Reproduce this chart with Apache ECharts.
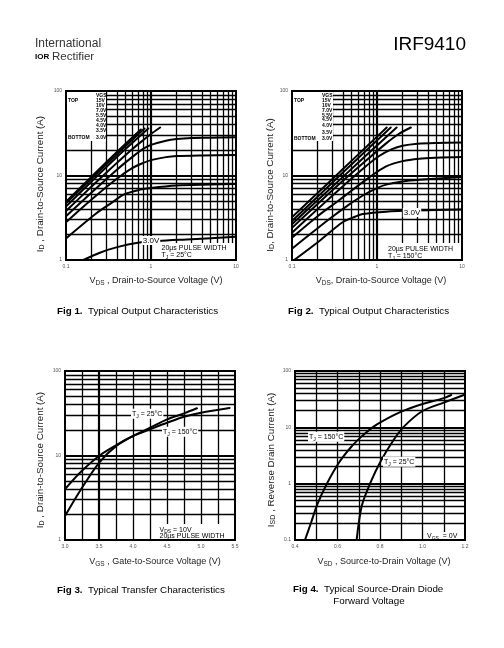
<!DOCTYPE html>
<html><head><meta charset="utf-8">
<script src="https://cdn.jsdelivr.net/npm/echarts@6/dist/echarts.min.js"></script>
<style>html,body{margin:0;padding:0;background:#fff}#c{width:504px;height:648px}</style>
</head><body><div id="c"></div>
<script>
// ---------- Fig 1: Typical Output Characteristics, TJ = 25°C (VDS V, ID A) ----------
const fig1_15V = [[0.1,4.9],[0.2,9.7],[0.4,19.1],[0.76,35]];
const fig1_10V = [[0.1,4.7],[0.2,9.2],[0.4,18],[0.84,36]];
const fig1_7V  = [[0.1,4.3],[0.2,8.5],[0.4,16.7],[0.93,36]];
const fig1_55V = [[0.1,3.8],[0.2,7.4],[0.4,14.2],[0.6,20.5],[0.8,26],[1.0,31],[1.28,37]];
const fig1_45V = [[0.1,3.3],[0.2,6.3],[0.4,11.8],[0.6,16.5],[0.8,20.5],[1.0,23],[1.5,25.8],[2,27],[3,27.8],[5,28],[10,28.3]];
const fig1_4V  = [[0.1,2.8],[0.2,5.2],[0.4,9.2],[0.6,12.2],[0.8,14],[1.0,15.2],[1.5,16.5],[2,17],[4,17.3],[10,17.5]];
const fig1_35V = [[0.1,1.8],[0.23,3.6],[0.35,4.8],[0.47,5.9],[0.7,6.7],[1,7.1],[2,7.6],[5,7.8],[10,7.95]];
const fig1_3V  = [[0.16,1.0],[0.25,1.22],[0.4,1.42],[0.7,1.6],[1.2,1.68],[3,1.76],[10,1.88]];
// ---------- Fig 2: Typical Output Characteristics, TJ = 150°C ----------
const fig2_15V = [[0.1,3.2],[0.2,6.2],[0.4,12.0],[0.8,23.3],[1.3,37]];
const fig2_10V = [[0.1,2.9],[0.2,5.6],[0.4,10.9],[0.8,21.1],[1.45,37]];
const fig2_7V  = [[0.1,2.65],[0.2,5.1],[0.4,9.7],[0.8,18.5],[1.7,37]];
const fig2_55V = [[0.1,2.4],[0.2,4.6],[0.4,8.7],[0.8,16],[1.28,24],[1.8,31],[2.5,37]];
const fig2_45V = [[0.1,2.1],[0.2,4.0],[0.4,7.5],[0.7,12.3],[1.06,17],[1.5,20.5],[2,22.5],[3,23.8],[5,24.3],[10,24.5]];
const fig2_4V  = [[0.1,1.84],[0.2,3.3],[0.33,4.8],[0.5,6.6],[0.81,9.5],[1.28,12.8],[2,14.8],[3.15,15.8],[5,16.2],[10,16.5]];
const fig2_35V = [[0.1,1.36],[0.275,3.05],[0.45,4.4],[0.68,5.8],[1.0,7.1],[1.28,7.8],[2,8.5],[3.15,8.9],[10,9.6]];
const fig2_3V  = [[0.106,1.0],[0.21,1.68],[0.39,2.78],[0.55,3.25],[0.68,3.5],[1.28,3.73],[3,3.85],[10,3.95]];
// ---------- Fig 3: Typical Transfer Characteristics (VGS V, ID A) ----------
const fig3_25C  = [[3.0,1.92],[3.22,3.8],[3.5,8.2],[3.75,12.9],[4.0,17],[4.25,21.3],[4.5,26.8],[4.75,31.5],[4.94,36.2]];
const fig3_150C = [[3.0,4.0],[3.22,6.26],[3.5,9.87],[3.75,13.2],[4.0,17],[4.25,20.4],[4.5,24.4],[4.75,28.8],[5.0,32.1],[5.42,36.5]];
// ---------- Fig 4: Source-Drain Diode Forward Voltage (VSD V, ISD A) ----------
const fig4_150C = [[0.447,0.1],[0.475,0.2],[0.505,0.43],[0.55,1.0],[0.608,2.4],[0.66,4.3],[0.706,6.5],[0.765,10],[0.81,12.8],[0.9,19],[1.0,26],[1.1,33],[1.135,37.5]];
const fig4_25C  = [[0.69,0.1],[0.714,0.4],[0.753,1.0],[0.805,2.57],[0.863,5.9],[0.91,10.1],[1.0,19.5],[1.1,27.5],[1.195,37.5]];
// ---------- tick labels ----------
const fig3_xTicks = ['3.0','3.5','4.0','4.5','5.0','5.5'];
const fig4_xTicks = ['0.4','0.6','0.8','1.0','1.2'];
const vgsLegend = ['15V','10V','7.0V','5.5V','4.5V','4.0V','3.5V','3.0V'];

function logLines(lo, hi){const out=[];for(let d=lo; d<hi*0.999; d*=10){for(let k=1;k<=9;k++){const v=+(k*d).toPrecision(3);if(v>lo*1.0001&&v<hi*0.999)out.push(v);}}return out;}
function linLines(lo, hi, step){const out=[];for(let v=lo+step; v<hi-step/2; v+=step)out.push(+v.toFixed(3));return out;}
function isDecade(v){const l=Math.log10(v);return Math.abs(l-Math.round(l))<1e-6;}

const FONT='"Liberation Sans", Arial, sans-serif';
function gridSeries(i, xs, ys, xLog, thickX){
  const data=[];
  xs.forEach(v=>data.push({xAxis:v,lineStyle:{width:(xLog&&isDecade(v))||(thickX&&thickX.includes(v))?2.2:1.3}}));
  ys.forEach(v=>data.push({yAxis:v,lineStyle:{width:isDecade(v)?2.2:1.3}}));
  return {type:'line',xAxisIndex:i,yAxisIndex:i,data:[],z:1,silent:true,animation:false,
    markLine:{silent:true,animation:false,symbol:['none','none'],label:{show:false},z:1,
      lineStyle:{color:'#000',type:'solid',width:1.3},emphasis:{disabled:true},data:data}};
}
function curve(i,d){return {type:'line',xAxisIndex:i,yAxisIndex:i,data:d,showSymbol:false,symbol:'none',
  smooth:0.3,z:3,silent:true,animation:false,lineStyle:{color:'#000',width:2,cap:'round',join:'round'}};}

const labFmt=v=>String(+(+v).toPrecision(3));
function logAxis(i,min,max){return {type:'log',gridIndex:i,min:min,max:max,logBase:10,
  axisLine:{show:false},axisTick:{show:false},splitLine:{show:false},
  axisLabel:{fontSize:5,color:'#555',margin:4,fontFamily:FONT,formatter:labFmt,showMinLabel:true,showMaxLabel:true}};}

const series=[
  gridSeries(0, logLines(0.1,10), logLines(1,100), true),
  gridSeries(1, logLines(0.1,10), logLines(1,100), true),
  gridSeries(2, linLines(3,5.5,0.25), logLines(1,100), false,[3.5]),
  gridSeries(3, linLines(0.4,1.2,0.1), logLines(0.1,100), false),
  ...[fig1_15V,fig1_10V,fig1_7V,fig1_55V,fig1_45V,fig1_4V,fig1_35V,fig1_3V].map(d=>curve(0,d)),
  ...[fig2_15V,fig2_10V,fig2_7V,fig2_55V,fig2_45V,fig2_4V,fig2_35V,fig2_3V].map(d=>curve(1,d)),
  curve(2,fig3_25C),curve(2,fig3_150C),
  curve(3,fig4_150C),curve(3,fig4_25C)
];

// ---------- graphics ----------
const G=[];
function rect(x,y,w,h){G.push({type:'rect',z:2,silent:true,shape:{x,y,width:w,height:h},style:{fill:'#fff'}});}
function txt(x,y,text,o){o=o||{};G.push({type:'text',z:10,silent:true,x,y,rotation:o.rot||0,style:Object.assign({text,
  font:(o.weight||'normal')+' '+(o.size||7)+'px '+FONT,fill:o.color||'#000',textAlign:o.align||'left',textVerticalAlign:'middle'},
  o.bg?{backgroundColor:'#fff',padding:[1,1,0,1]}:{}, o.rich?{rich:o.rich}:{})});}
const nameRich={n:{fontSize:9.8,fontFamily:FONT,fill:'#222',lineHeight:12},s:{fontSize:7,fontFamily:FONT,fill:'#222',verticalAlign:'bottom',lineHeight:7}};
const xnameRich={n:{fontSize:9,fontFamily:FONT,fill:'#222',lineHeight:12},s:{fontSize:6.5,fontFamily:FONT,fill:'#222',verticalAlign:'bottom',lineHeight:7}};
const lblRich={n:{fontSize:7,fontFamily:FONT,fill:'#000',lineHeight:9},s:{fontSize:5,fontFamily:FONT,fill:'#000',verticalAlign:'bottom',lineHeight:5}};
const capRich={b:{fontSize:9.8,fontWeight:'bold',fontFamily:FONT,fill:'#000'},n:{fontSize:9.8,fontFamily:FONT,fill:'#000'}};

// header
txt(35,44,'International',{size:12,color:'#333'});
txt(35,57,'IOR',{size:8,weight:'bold'});
txt(52,57,'Rectifier',{size:11.5,color:'#333'});
txt(466,45,'IRF9410',{size:19,align:'right'});

// white boxes
rect(67,92,39,49); rect(158,243,77,16);
rect(293,92,40,49); rect(386,243,75,16);
rect(158,524,76,15);
rect(425,532,39,7);

// legends
function legend(x0,x1,ys){
  txt(x1,ys[0],'VGS',{size:5,weight:'bold'});
  vgsLegend.forEach((l,k)=>txt(x1,ys[k+1],l,{size:5,weight:'bold'}));
  txt(x0,ys[1],'TOP',{size:5,weight:'bold'});
  txt(x0,ys[8],'BOTTOM',{size:5,weight:'bold'});
}
legend(68,96,[95.5,100.5,106,110.5,116,121,126,131,138]);
legend(294,322,[95.3,100.3,105.3,111,115.3,119.3,126,132.7,138.3]);

// in-plot labels
txt(151,240.5,'3.0V',{size:8,align:'center',bg:true});
txt(412,212.5,'3.0V',{size:8,align:'center',bg:true});
txt(161.5,248.5,'20µs PULSE WIDTH',{size:7});
txt(161.5,255.5,'{n|T}{s|J}{n| = 25°C}',{rich:lblRich});
txt(388,249.5,'20µs PULSE WIDTH',{size:7});
txt(388,256.3,'{n|T}{s|J}{n| = 150°C}',{rich:lblRich});
txt(131,413.7,'{n|T}{s|J}{n| = 25°C}',{rich:lblRich,bg:true});
txt(162,431.7,'{n|T}{s|J}{n| = 150°C}',{rich:lblRich,bg:true});
txt(159.5,530,'{n|V}{s|DS}{n| = 10V}',{rich:lblRich});
txt(159.5,536.5,'20µs PULSE WIDTH',{size:7});
txt(308,436.7,'{n|T}{s|J}{n| = 150°C}',{rich:lblRich,bg:true});
txt(383,461.7,'{n|T}{s|J}{n| = 25°C}',{rich:lblRich,bg:true});
txt(427,536.5,'{n|V}{s|GS}{n|  = 0V}',{rich:lblRich});

// axis names
txt(40,184,'{n|I}{s|D}{n| , Drain-to-Source Current (A)}',{rich:nameRich,rot:Math.PI/2,align:'center'});
txt(270,185,'{n|I}{s|D}{n|, Drain-to-Source Current (A)}',{rich:nameRich,rot:Math.PI/2,align:'center'});
txt(40,460,'{n|I}{s|D}{n| , Drain-to-Source Current (A)}',{rich:nameRich,rot:Math.PI/2,align:'center'});
txt(271,460,'{n|I}{s|SD}{n| , Reverse Drain Current (A)}',{rich:nameRich,rot:Math.PI/2,align:'center'});
txt(156,281,'{n|V}{s|DS}{n| , Drain-to-Source Voltage (V)}',{rich:xnameRich,align:'center'});
txt(381,281,'{n|V}{s|DS}{n|, Drain-to-Source Voltage (V)}',{rich:xnameRich,align:'center'});
txt(155,562,'{n|V}{s|GS}{n| , Gate-to-Source Voltage (V)}',{rich:xnameRich,align:'center'});
txt(384,562,'{n|V}{s|SD}{n| , Source-to-Drain Voltage (V)}',{rich:xnameRich,align:'center'});

// captions
txt(57,311,'{b|Fig 1.}{n|  Typical Output Characteristics}',{rich:capRich});
txt(288,311,'{b|Fig 2.}{n|  Typical Output Characteristics}',{rich:capRich});
txt(57,590,'{b|Fig 3.}{n|  Typical Transfer Characteristics}',{rich:capRich});
txt(293,589,'{b|Fig 4.}{n|  Typical Source-Drain Diode}',{rich:capRich});
txt(369,601,'{n|Forward Voltage}',{rich:capRich,align:'center'});

const chart=echarts.init(document.getElementById('c'),null,{renderer:'canvas'});
chart.setOption({
  animation:false,
  backgroundColor:'#fff',
  grid:[
    {left:66,top:91,width:170,height:169,show:true,borderColor:'#000',borderWidth:2,backgroundColor:'transparent'},
    {left:292,top:91,width:170,height:169,show:true,borderColor:'#000',borderWidth:2,backgroundColor:'transparent'},
    {left:65,top:371,width:170,height:169,show:true,borderColor:'#000',borderWidth:2,backgroundColor:'transparent'},
    {left:295,top:371,width:170,height:169,show:true,borderColor:'#000',borderWidth:2,backgroundColor:'transparent'}
  ],
  xAxis:[
    logAxis(0,0.1,10), logAxis(1,0.1,10),
    {type:'value',gridIndex:2,min:3,max:5.5,interval:0.25,axisLine:{show:false},axisTick:{show:false},splitLine:{show:false},
      axisLabel:{fontSize:5,color:'#555',margin:4,fontFamily:FONT,showMinLabel:true,showMaxLabel:true,
        formatter:v=>{const s=(+v).toFixed(1);return (Math.round(v*100)%50===0&&fig3_xTicks.includes(s))?s:'';}}},
    {type:'value',gridIndex:3,min:0.4,max:1.2,interval:0.1,axisLine:{show:false},axisTick:{show:false},splitLine:{show:false},
      axisLabel:{fontSize:5,color:'#555',margin:4,fontFamily:FONT,showMinLabel:true,showMaxLabel:true,
        formatter:v=>{const s=(+v).toFixed(1);return fig4_xTicks.includes(s)?s:'';}}}
  ],
  yAxis:[logAxis(0,1,100),logAxis(1,1,100),logAxis(2,1,100),logAxis(3,0.1,100)],
  series:series,
  graphic:G
});
</script></body></html>
